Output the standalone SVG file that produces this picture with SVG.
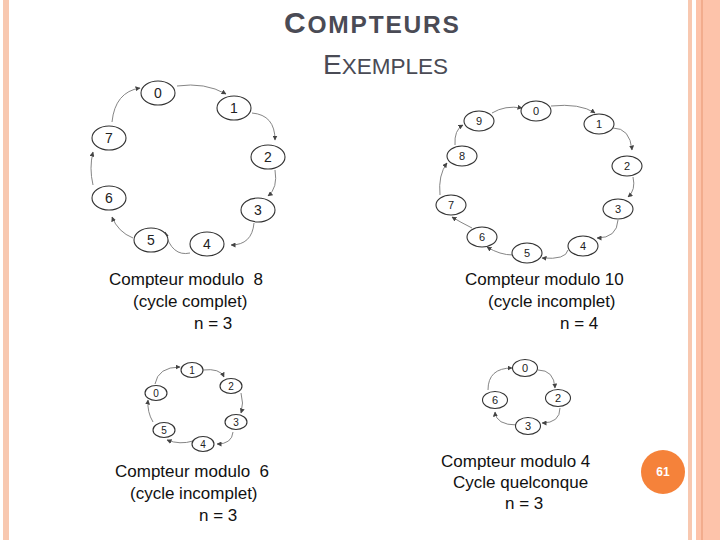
<svg xmlns="http://www.w3.org/2000/svg" width="720" height="540" viewBox="0 0 720 540">
<defs>
<marker id="ah" viewBox="0 0 10 10" refX="9" refY="5" markerWidth="5" markerHeight="5" markerUnits="userSpaceOnUse" orient="auto">
<path d="M0,0 L10,5 L0,10 z" fill="#444"/>
</marker>
<style>
.n{fill:#fff;stroke:#333;stroke-width:1.1}
.t{font-family:"Liberation Sans",Arial,sans-serif;fill:#222;text-anchor:middle;dominant-baseline:central}
.c path{fill:none;stroke:#777;stroke-width:0.9;marker-end:url(#ah)}
.lbl{font-family:"Liberation Sans",Arial,sans-serif;font-size:17px;fill:#111}
.ttl{font-family:"Liberation Sans",Arial,sans-serif;fill:#4a4b55}
</style>
</defs>
<rect width="720" height="540" fill="#fff"/>
<rect x="3" y="0" width="6" height="540" fill="#f8c8b0"/>
<rect x="688" y="0" width="4" height="540" fill="#f8c8b0"/>
<rect x="696" y="0" width="24" height="540" fill="#fdc3aa"/>
<rect x="701.5" y="0" width="1" height="540" fill="#e89570"/>
<g id="title">
<text class="ttl" x="284" y="33" font-weight="bold" letter-spacing="1.8"><tspan font-size="30">C</tspan><tspan font-size="24.5">OMPTEURS</tspan></text>
<text class="ttl" x="323" y="74"><tspan font-size="28">E</tspan><tspan font-size="22.5">XEMPLES</tspan></text>
</g>
<g id="badge">
<circle cx="663" cy="472" r="22" fill="#f5823a"/>
<text x="663" y="472" font-family="'Liberation Sans',Arial,sans-serif" font-size="12" font-weight="bold" fill="#fff" text-anchor="middle" dominant-baseline="central">61</text>
</g>
<g id="connectors" class="c">
<path d="M177,86 Q205,82 226,94"/>
<path d="M252,113 Q275,115 275,140"/>
<path d="M275,170 Q278,188 268,196"/>
<path d="M254,223 Q252,245 231,245"/>
<path d="M190,253 Q172,257 165,232"/>
<path d="M133,238 Q118,232 112,217"/>
<path d="M93,185 Q89,168 93,152"/>
<path d="M112,122 Q115,92 140,88"/>
<path d="M551,106 Q580,103 595,113"/>
<path d="M613,128 Q630,128 632,150"/>
<path d="M633,177 Q636,190 628,197"/>
<path d="M618,220 Q617,238 597,238"/>
<path d="M568,250 Q566,260 542,258"/>
<path d="M513,255 Q500,255 487,247"/>
<path d="M472,228 Q460,222 452,217"/>
<path d="M440,195 Q438,175 447,163"/>
<path d="M455,145 Q454,130 463,125"/>
<path d="M492,113 Q505,105 522,108"/>
<path d="M155,384 Q158,367 180,367"/>
<path d="M203,370 Q220,368 224,377"/>
<path d="M241,393 Q244,403 241,413"/>
<path d="M233,432 Q232,444 217,444"/>
<path d="M193,441 Q180,445 167,440"/>
<path d="M153,422 Q147,412 148,400"/>
<path d="M538,370 Q554,370 555,388"/>
<path d="M560,408 Q560,423 542,423"/>
<path d="M517,425 Q496,425 495,412"/>
<path d="M488,390 Q488,368 512,368"/>
</g>
<g id="m8">
<g id="m8-0"><ellipse class="n" cx="158" cy="93" rx="17" ry="12"/><text class="t" x="158" y="93" font-size="14">0</text></g>
<g id="m8-1"><ellipse class="n" cx="234" cy="108" rx="17" ry="12"/><text class="t" x="234" y="108" font-size="14">1</text></g>
<g id="m8-2"><ellipse class="n" cx="268" cy="157" rx="17" ry="12"/><text class="t" x="268" y="157" font-size="14">2</text></g>
<g id="m8-3"><ellipse class="n" cx="258" cy="210" rx="17" ry="12"/><text class="t" x="258" y="210" font-size="14">3</text></g>
<g id="m8-4"><ellipse class="n" cx="207" cy="244" rx="17" ry="12"/><text class="t" x="207" y="244" font-size="14">4</text></g>
<g id="m8-5"><ellipse class="n" cx="151" cy="240" rx="17" ry="12"/><text class="t" x="151" y="240" font-size="14">5</text></g>
<g id="m8-6"><ellipse class="n" cx="109" cy="198" rx="17" ry="12"/><text class="t" x="109" y="198" font-size="14">6</text></g>
<g id="m8-7"><ellipse class="n" cx="109" cy="138" rx="17" ry="12"/><text class="t" x="109" y="138" font-size="14">7</text></g>
</g>
<g id="m10">
<g id="m10-0"><ellipse class="n" cx="536" cy="111" rx="15" ry="10"/><text class="t" x="536" y="111" font-size="11">0</text></g>
<g id="m10-1"><ellipse class="n" cx="599" cy="124" rx="15" ry="10"/><text class="t" x="599" y="124" font-size="11">1</text></g>
<g id="m10-2"><ellipse class="n" cx="627" cy="166" rx="15" ry="10"/><text class="t" x="627" y="166" font-size="11">2</text></g>
<g id="m10-3"><ellipse class="n" cx="618" cy="209" rx="15" ry="10"/><text class="t" x="618" y="209" font-size="11">3</text></g>
<g id="m10-4"><ellipse class="n" cx="583" cy="246" rx="15" ry="10"/><text class="t" x="583" y="246" font-size="11">4</text></g>
<g id="m10-5"><ellipse class="n" cx="527" cy="253" rx="15" ry="10"/><text class="t" x="527" y="253" font-size="11">5</text></g>
<g id="m10-6"><ellipse class="n" cx="482" cy="237" rx="15" ry="10"/><text class="t" x="482" y="237" font-size="11">6</text></g>
<g id="m10-7"><ellipse class="n" cx="451" cy="205" rx="15" ry="10"/><text class="t" x="451" y="205" font-size="11">7</text></g>
<g id="m10-8"><ellipse class="n" cx="462" cy="156" rx="15" ry="10"/><text class="t" x="462" y="156" font-size="11">8</text></g>
<g id="m10-9"><ellipse class="n" cx="479" cy="121" rx="15" ry="10"/><text class="t" x="479" y="121" font-size="11">9</text></g>
</g>
<g id="m6">
<g id="m6-0"><ellipse class="n" cx="156" cy="393" rx="11" ry="7.5"/><text class="t" x="156" y="393" font-size="10">0</text></g>
<g id="m6-1"><ellipse class="n" cx="192" cy="370" rx="11" ry="7.5"/><text class="t" x="192" y="370" font-size="10">1</text></g>
<g id="m6-2"><ellipse class="n" cx="231" cy="386" rx="11" ry="7.5"/><text class="t" x="231" y="386" font-size="10">2</text></g>
<g id="m6-3"><ellipse class="n" cx="236" cy="422" rx="11" ry="7.5"/><text class="t" x="236" y="422" font-size="10">3</text></g>
<g id="m6-4"><ellipse class="n" cx="203" cy="444" rx="11" ry="7.5"/><text class="t" x="203" y="444" font-size="10">4</text></g>
<g id="m6-5"><ellipse class="n" cx="164" cy="430" rx="11" ry="7.5"/><text class="t" x="164" y="430" font-size="10">5</text></g>
</g>
<g id="m4">
<g id="m4-0"><ellipse class="n" cx="525" cy="368" rx="12.5" ry="8.5"/><text class="t" x="525" y="368" font-size="11">0</text></g>
<g id="m4-2"><ellipse class="n" cx="558" cy="398" rx="12.5" ry="8.5"/><text class="t" x="558" y="398" font-size="11">2</text></g>
<g id="m4-3"><ellipse class="n" cx="528" cy="426" rx="12.5" ry="8.5"/><text class="t" x="528" y="426" font-size="11">3</text></g>
<g id="m4-6"><ellipse class="n" cx="495" cy="400" rx="12.5" ry="8.5"/><text class="t" x="495" y="400" font-size="11">6</text></g>
</g>
<g id="labels">
<text class="lbl" x="109" y="285" xml:space="preserve">Compteur modulo  8</text>
<text class="lbl" x="133" y="307">(cycle complet)</text>
<text class="lbl" x="194" y="329">n = 3</text>
<text class="lbl" x="465" y="285">Compteur modulo 10</text>
<text class="lbl" x="488" y="307">(cycle incomplet)</text>
<text class="lbl" x="560" y="329">n = 4</text>
<text class="lbl" x="115" y="477" xml:space="preserve">Compteur modulo  6</text>
<text class="lbl" x="130" y="499">(cycle incomplet)</text>
<text class="lbl" x="199" y="521">n = 3</text>
<text class="lbl" x="441" y="467">Compteur modulo 4</text>
<text class="lbl" x="453" y="488">Cycle quelconque</text>
<text class="lbl" x="505" y="509">n = 3</text>
</g>
</svg>
